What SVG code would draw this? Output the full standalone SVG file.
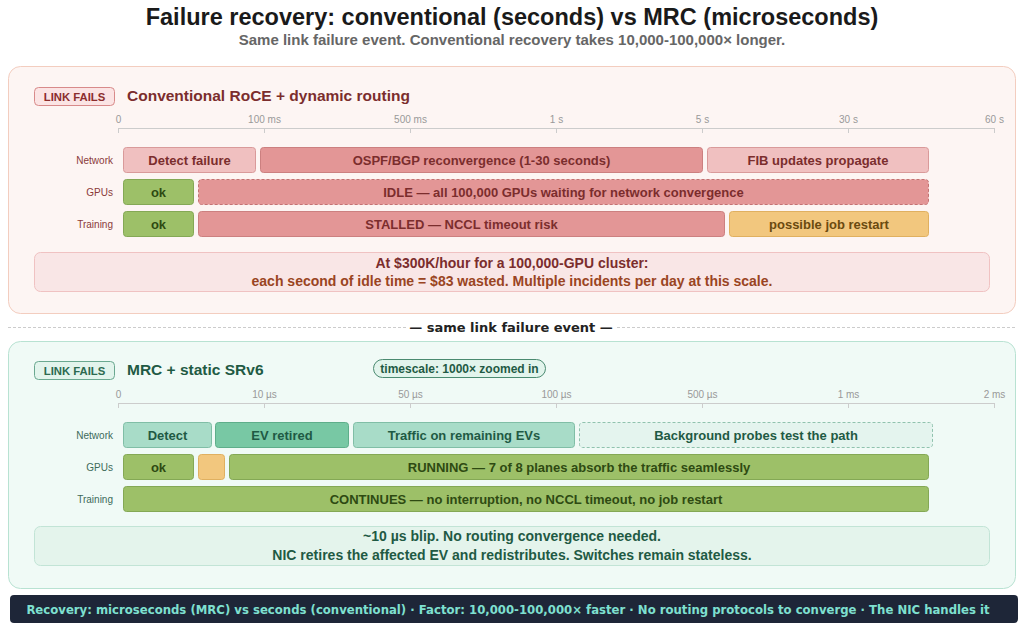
<svg xmlns="http://www.w3.org/2000/svg" width="1024" height="630" viewBox="0 0 1024 630">
<style>
text{font-family:"Liberation Sans",Arial,sans-serif}
.b{font-weight:bold}
.ax{font-size:10px;fill:#999;text-anchor:middle}
.rl{font-size:10px;text-anchor:end}
.rlr{fill:#8b3a3a}
.rlg{fill:#3d6a5a}
.bt{font-size:13px;font-weight:bold;text-anchor:middle}
.tr{fill:#7b2d2d}
.tg{fill:#1f5a44}
.tok{fill:#2e4a12}
.ty{fill:#6b4a10}
.r1{fill:#f0c0c0;stroke:#d99a9a}
.r2{fill:#e39696;stroke:#cc8080}
.r2d{fill:#e39696;stroke:#c47272;stroke-dasharray:3 2}
.ok{fill:#9dc068;stroke:#84a855}
.yl{fill:#f2c77e;stroke:#e0b060}
.g1{fill:#a8dcc8;stroke:#80bea6}
.g2{fill:#78c8a4;stroke:#5eae8a}
.g0{fill:#e4f4ee;stroke:#90c2ae;stroke-dasharray:3 2}
.tick{stroke:#ccc;stroke-width:1}
.nt{font-size:14px;font-weight:bold;text-anchor:middle}
.ft{font-family:"DejaVu Sans",sans-serif;font-size:11.7px;font-weight:bold;fill:#7ee0d0;text-anchor:middle}
</style>
<rect width="1024" height="630" fill="#fff"/>
<g id="title">
<text x="512" y="25" class="b" font-size="23.5" text-anchor="middle" fill="#1a1a1a">Failure recovery: conventional (seconds) vs MRC (microseconds)</text>
<text x="512" y="44.5" class="b" font-size="15" text-anchor="middle" fill="#666">Same link failure event. Conventional recovery takes 10,000-100,000× longer.</text>
</g>
<g id="panel-conventional">
<rect x="8.5" y="66.5" width="1007" height="247" rx="12" fill="#fdf5f3" stroke="#f3cdbf"/>
<rect x="34.5" y="87.5" width="80" height="18" rx="4" fill="#fbe4e4" stroke="#d88a8a"/>
<text x="74.5" y="100.5" class="b" font-size="11.3" text-anchor="middle" fill="#8b2d2d">LINK FAILS</text>
<text x="127" y="101" class="b" font-size="15.5" fill="#7b2d2d">Conventional RoCE + dynamic routing</text>
<g id="axis-top">
<line x1="118.5" y1="128.5" x2="994.5" y2="128.5" class="tick"/>
<path d="M118.5 128v5M264.5 128v5M410.5 128v5M556.5 128v5M702.5 128v5M848.5 128v5M994.5 128v5" class="tick"/>
<text x="118.5" y="123" class="ax">0</text>
<text x="264.5" y="123" class="ax">100 ms</text>
<text x="410.5" y="123" class="ax">500 ms</text>
<text x="556.5" y="123" class="ax">1 s</text>
<text x="702.5" y="123" class="ax">5 s</text>
<text x="848.5" y="123" class="ax">30 s</text>
<text x="994.5" y="123" class="ax">60 s</text>
</g>
<text x="113" y="164" class="rl rlr">Network</text>
<text x="113" y="196" class="rl rlr">GPUs</text>
<text x="113" y="228" class="rl rlr">Training</text>
<g id="c-detect"><rect x="123.5" y="147.5" width="132" height="25" rx="3" class="r1"/><text x="189.5" y="165" class="bt tr">Detect failure</text></g>
<g id="c-ospf"><rect x="260.5" y="147.5" width="442" height="25" rx="3" class="r2"/><text x="481.5" y="165" class="bt tr">OSPF/BGP reconvergence (1-30 seconds)</text></g>
<g id="c-fib"><rect x="707.5" y="147.5" width="221" height="25" rx="3" class="r1"/><text x="818" y="165" class="bt tr">FIB updates propagate</text></g>
<g id="c-gpu-ok"><rect x="123.5" y="179.5" width="70" height="25" rx="3" class="ok"/><text x="158.5" y="197" class="bt tok">ok</text></g>
<g id="c-idle"><rect x="198.5" y="179.5" width="730" height="25" rx="3" class="r2d"/><text x="563.5" y="197" class="bt tr">IDLE — all 100,000 GPUs waiting for network convergence</text></g>
<g id="c-train-ok"><rect x="123.5" y="211.5" width="70" height="25" rx="3" class="ok"/><text x="158.5" y="229" class="bt tok">ok</text></g>
<g id="c-stalled"><rect x="198.5" y="211.5" width="526" height="25" rx="3" class="r2"/><text x="461.5" y="229" class="bt tr">STALLED — NCCL timeout risk</text></g>
<g id="c-restart"><rect x="729.5" y="211.5" width="199" height="25" rx="3" class="yl"/><text x="829" y="229" class="bt ty">possible job restart</text></g>
<g id="c-note">
<rect x="34.5" y="252.5" width="955" height="39" rx="6" fill="#f9e6e6" stroke="#f0c2c2"/>
<text x="512" y="267.5" class="nt" fill="#7b2d2d">At $300K/hour for a 100,000-GPU cluster:</text>
<text x="512" y="286" class="nt" fill="#9a4422">each second of idle time = $83 wasted. Multiple incidents per day at this scale.</text>
</g>
</g>
<g id="separator">
<line x1="8" y1="327.5" x2="406" y2="327.5" stroke="#ccc" stroke-dasharray="3 2"/>
<line x1="617" y1="327.5" x2="1016" y2="327.5" stroke="#ccc" stroke-dasharray="3 2"/>
<text x="511" y="332" font-size="13" font-weight="bold" text-anchor="middle" fill="#222" style="font-family:'DejaVu Sans',sans-serif">— same link failure event —</text>
</g>
<g id="panel-mrc">
<rect x="8.5" y="341.5" width="1007" height="247" rx="12" fill="#f0faf6" stroke="#b8e2d2"/>
<rect x="34.5" y="361.5" width="80" height="18" rx="4" fill="#e2f4ec" stroke="#6aa890"/>
<text x="74.5" y="374.5" class="b" font-size="11.3" text-anchor="middle" fill="#2d6a50">LINK FAILS</text>
<text x="127" y="375" class="b" font-size="15.5" fill="#1f5a44">MRC + static SRv6</text>
<rect x="373.5" y="359.5" width="172" height="18" rx="9" fill="#e2f4ec" stroke="#4a8a70"/>
<text x="459.5" y="372.5" class="b" font-size="12" text-anchor="middle" fill="#1f5a44">timescale: 1000× zoomed in</text>
<g id="axis-bottom">
<line x1="118.5" y1="403.5" x2="994.5" y2="403.5" class="tick"/>
<path d="M118.5 403v5M264.5 403v5M410.5 403v5M556.5 403v5M702.5 403v5M848.5 403v5M994.5 403v5" class="tick"/>
<text x="118.5" y="397.5" class="ax">0</text>
<text x="264.5" y="397.5" class="ax">10 µs</text>
<text x="410.5" y="397.5" class="ax">50 µs</text>
<text x="556.5" y="397.5" class="ax">100 µs</text>
<text x="702.5" y="397.5" class="ax">500 µs</text>
<text x="848.5" y="397.5" class="ax">1 ms</text>
<text x="994.5" y="397.5" class="ax">2 ms</text>
</g>
<text x="113" y="439" class="rl rlg">Network</text>
<text x="113" y="471" class="rl rlg">GPUs</text>
<text x="113" y="503" class="rl rlg">Training</text>
<g id="m-detect"><rect x="123.5" y="422.5" width="88" height="25" rx="3" class="g1"/><text x="167.5" y="440" class="bt tg">Detect</text></g>
<g id="m-ev"><rect x="215.5" y="422.5" width="133" height="25" rx="3" class="g2"/><text x="282" y="440" class="bt tg">EV retired</text></g>
<g id="m-traffic"><rect x="353.5" y="422.5" width="221" height="25" rx="3" class="g1"/><text x="464" y="440" class="bt tg">Traffic on remaining EVs</text></g>
<g id="m-probes"><rect x="579.5" y="422.5" width="353" height="25" rx="3" class="g0"/><text x="756" y="440" class="bt tg">Background probes test the path</text></g>
<g id="m-gpu-ok"><rect x="123.5" y="454.5" width="70" height="25" rx="3" class="ok"/><text x="158.5" y="472" class="bt tok">ok</text></g>
<g id="m-blip"><rect x="198.5" y="454.5" width="26" height="25" rx="3" class="yl"/></g>
<g id="m-running"><rect x="229.5" y="454.5" width="699" height="25" rx="3" class="ok"/><text x="579" y="472" class="bt tok">RUNNING — 7 of 8 planes absorb the traffic seamlessly</text></g>
<g id="m-continues"><rect x="123.5" y="486.5" width="805" height="25" rx="3" class="ok"/><text x="526" y="504" class="bt tok">CONTINUES — no interruption, no NCCL timeout, no job restart</text></g>
<g id="m-note">
<rect x="34.5" y="526.5" width="955" height="39" rx="6" fill="#e4f4ec" stroke="#c2e4d6"/>
<text x="512" y="541" class="nt" fill="#1f5a44">~10 µs blip. No routing convergence needed.</text>
<text x="512" y="560" class="nt" fill="#1f5a44">NIC retires the affected EV and redistributes. Switches remain stateless.</text>
</g>
</g>
<g id="footer">
<rect x="10" y="595" width="1008" height="28" rx="4" fill="#1e2638"/>
<text x="508" y="613.5" class="ft">Recovery: microseconds (MRC) vs seconds (conventional) · Factor: 10,000-100,000× faster · No routing protocols to converge · The NIC handles it</text>
</g>
</svg>
